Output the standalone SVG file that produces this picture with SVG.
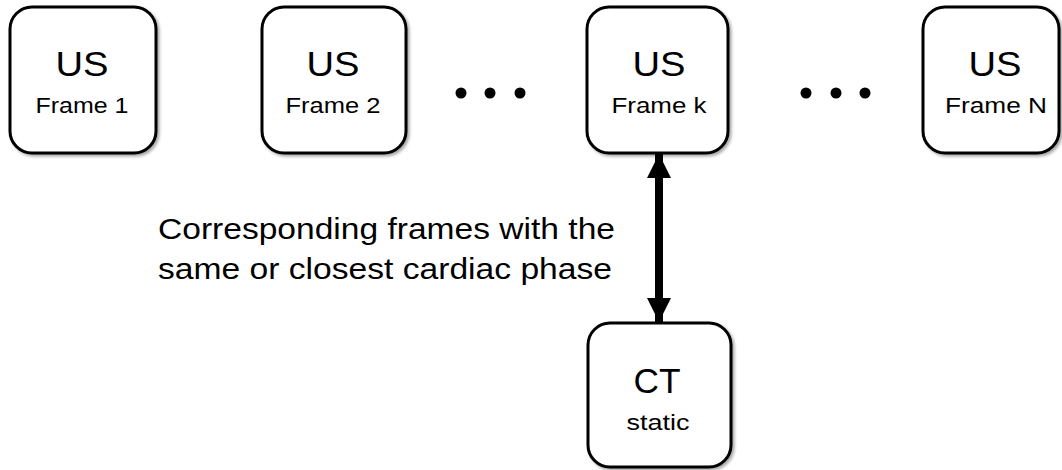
<svg xmlns="http://www.w3.org/2000/svg" width="1062" height="470" viewBox="0 0 1062 470">
  <defs>
    <filter id="shadow" x="-10%" y="-10%" width="130%" height="130%">
      <feDropShadow dx="2" dy="2" stdDeviation="1.5" flood-color="#000" flood-opacity="0.35"/>
    </filter>
    <marker id="head" viewBox="0 0 10 10" refX="10" refY="5" markerWidth="3" markerHeight="3" orient="auto-start-reverse" markerUnits="strokeWidth">
      <path d="M0,0 L10,5 L0,10 Z" fill="#000"/>
    </marker>
  </defs>
  <style>
    .box { fill: #fff; stroke: #000; stroke-width: 3; filter: url(#shadow); }
    .big { font-family: "Liberation Sans", Arial, sans-serif; font-size: 35px; fill: #000; text-anchor: middle; }
    .small { font-family: "Liberation Sans", Arial, sans-serif; font-size: 22px; fill: #000; text-anchor: middle; }
    .label { font-family: "Liberation Sans", Arial, sans-serif; font-size: 30px; fill: #000; }
    .dot { fill: #000; }
  </style>
  <rect width="1062" height="470" fill="#fff"/>

  <g id="us-frame-1">
    <rect class="box" x="10" y="7" width="146" height="146" rx="22"/>
    <text class="big" x="82" y="76" textLength="53" lengthAdjust="spacingAndGlyphs">US</text>
    <text class="small" x="82" y="113" textLength="93" lengthAdjust="spacingAndGlyphs">Frame 1</text>
  </g>
  <g id="us-frame-2">
    <rect class="box" x="262" y="7" width="144" height="146" rx="22"/>
    <text class="big" x="333" y="76" textLength="53" lengthAdjust="spacingAndGlyphs">US</text>
    <text class="small" x="333" y="113" textLength="95" lengthAdjust="spacingAndGlyphs">Frame 2</text>
  </g>
  <g id="us-frame-k">
    <rect class="box" x="587" y="7" width="141" height="146" rx="22"/>
    <text class="big" x="659" y="76" textLength="53" lengthAdjust="spacingAndGlyphs">US</text>
    <text class="small" x="659" y="113" textLength="95" lengthAdjust="spacingAndGlyphs">Frame k</text>
  </g>
  <g id="us-frame-n">
    <rect class="box" x="923" y="7" width="136" height="146" rx="22"/>
    <text class="big" x="995" y="76" textLength="53" lengthAdjust="spacingAndGlyphs">US</text>
    <text class="small" x="996" y="113" textLength="102" lengthAdjust="spacingAndGlyphs">Frame N</text>
  </g>
  <g id="ct-static">
    <rect class="box" x="588" y="323" width="143" height="144" rx="22"/>
    <text class="big" x="657" y="393" textLength="47" lengthAdjust="spacingAndGlyphs">CT</text>
    <text class="small" x="658" y="430" textLength="63" lengthAdjust="spacingAndGlyphs">static</text>
  </g>

  <g id="ellipsis-1">
    <circle class="dot" cx="461" cy="93" r="5.5"/>
    <circle class="dot" cx="490" cy="93" r="5.5"/>
    <circle class="dot" cx="520" cy="93" r="5.5"/>
  </g>
  <g id="ellipsis-2">
    <circle class="dot" cx="806" cy="93" r="5.5"/>
    <circle class="dot" cx="836" cy="93" r="5.5"/>
    <circle class="dot" cx="865" cy="93" r="5.5"/>
  </g>

  <g id="connectors">
    <line x1="659" y1="154" x2="659" y2="322" stroke="#000" stroke-width="8" marker-start="url(#head)" marker-end="url(#head)"/>
  </g>

  <g id="caption">
    <text class="label" x="158" y="239" textLength="457" lengthAdjust="spacingAndGlyphs">Corresponding frames with the</text>
    <text class="label" x="158" y="279" textLength="454" lengthAdjust="spacingAndGlyphs">same or closest cardiac phase</text>
  </g>
</svg>
